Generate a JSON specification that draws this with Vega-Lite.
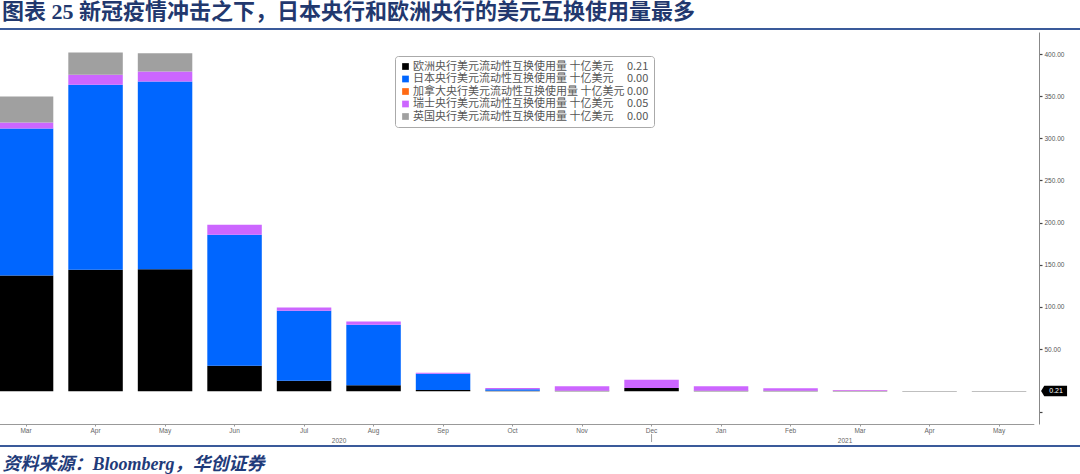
{
  "$schema": "https://vega.github.io/schema/vega-lite/v6.json",
  "width": 1039,
  "height": 392,
  "autosize": {"type": "none"},
  "padding": {"left": 0, "top": 32, "right": 41, "bottom": 50},
  "background": "white",
  "config": {"view": {"stroke": null}, "font": "Noto Sans CJK SC"},
  "title": {
    "text": "图表 25 新冠疫情冲击之下，日本央行和欧洲央行的美元互换使用量最多",
    "anchor": "start",
    "frame": "group",
    "orient": "top",
    "offset": 6,
    "dx": 2,
    "dy": 24.5,
    "baseline": "bottom",
    "font": "'Liberation Serif', 'Noto Sans CJK SC'",
    "fontSize": 22,
    "fontWeight": "bold",
    "color": "#22386E"
  },
  "layer": [
    {
      "data": {
        "values": [
          {"m": "2020-03", "s": "欧洲央行美元流动性互换使用量", "v": 137.3},
          {"m": "2020-03", "s": "日本央行美元流动性互换使用量", "v": 174.3},
          {"m": "2020-03", "s": "瑞士央行美元流动性互换使用量", "v": 7.1},
          {"m": "2020-03", "s": "英国央行美元流动性互换使用量", "v": 30.9},
          {"m": "2020-04", "s": "欧洲央行美元流动性互换使用量", "v": 144.0},
          {"m": "2020-04", "s": "日本央行美元流动性互换使用量", "v": 219.5},
          {"m": "2020-04", "s": "瑞士央行美元流动性互换使用量", "v": 11.8},
          {"m": "2020-04", "s": "英国央行美元流动性互换使用量", "v": 26.5},
          {"m": "2020-05", "s": "欧洲央行美元流动性互换使用量", "v": 144.8},
          {"m": "2020-05", "s": "日本央行美元流动性互换使用量", "v": 222.6},
          {"m": "2020-05", "s": "瑞士央行美元流动性互换使用量", "v": 11.8},
          {"m": "2020-05", "s": "英国央行美元流动性互换使用量", "v": 21.8},
          {"m": "2020-06", "s": "欧洲央行美元流动性互换使用量", "v": 30.1},
          {"m": "2020-06", "s": "日本央行美元流动性互换使用量", "v": 155.4},
          {"m": "2020-06", "s": "瑞士央行美元流动性互换使用量", "v": 11.9},
          {"m": "2020-07", "s": "欧洲央行美元流动性互换使用量", "v": 12.3},
          {"m": "2020-07", "s": "日本央行美元流动性互换使用量", "v": 83.1},
          {"m": "2020-07", "s": "瑞士央行美元流动性互换使用量", "v": 3.9},
          {"m": "2020-08", "s": "欧洲央行美元流动性互换使用量", "v": 7.2},
          {"m": "2020-08", "s": "日本央行美元流动性互换使用量", "v": 71.6},
          {"m": "2020-08", "s": "瑞士央行美元流动性互换使用量", "v": 3.9},
          {"m": "2020-09", "s": "欧洲央行美元流动性互换使用量", "v": 1.5},
          {"m": "2020-09", "s": "日本央行美元流动性互换使用量", "v": 19.1},
          {"m": "2020-09", "s": "瑞士央行美元流动性互换使用量", "v": 1.4},
          {"m": "2020-10", "s": "欧洲央行美元流动性互换使用量", "v": 0.5},
          {"m": "2020-10", "s": "日本央行美元流动性互换使用量", "v": 1.7},
          {"m": "2020-10", "s": "瑞士央行美元流动性互换使用量", "v": 1.7},
          {"m": "2020-11", "s": "欧洲央行美元流动性互换使用量", "v": 0.5},
          {"m": "2020-11", "s": "瑞士央行美元流动性互换使用量", "v": 5.4},
          {"m": "2020-12", "s": "欧洲央行美元流动性互换使用量", "v": 3.9},
          {"m": "2020-12", "s": "瑞士央行美元流动性互换使用量", "v": 9.8},
          {"m": "2021-01", "s": "欧洲央行美元流动性互换使用量", "v": 0.5},
          {"m": "2021-01", "s": "瑞士央行美元流动性互换使用量", "v": 5.4},
          {"m": "2021-02", "s": "欧洲央行美元流动性互换使用量", "v": 0.4},
          {"m": "2021-02", "s": "瑞士央行美元流动性互换使用量", "v": 3.0},
          {"m": "2021-03", "s": "欧洲央行美元流动性互换使用量", "v": 0.3},
          {"m": "2021-03", "s": "加拿大央行美元流动性互换使用量", "v": 0.3},
          {"m": "2021-03", "s": "瑞士央行美元流动性互换使用量", "v": 0.8},
          {"m": "2021-04", "s": "欧洲央行美元流动性互换使用量", "v": 0.2},
          {"m": "2021-04", "s": "瑞士央行美元流动性互换使用量", "v": 0.05},
          {"m": "2021-05", "s": "欧洲央行美元流动性互换使用量", "v": 0.21},
          {"m": "2021-05", "s": "瑞士央行美元流动性互换使用量", "v": 0.05}
        ]
      },
      "transform": [
        {"calculate": "indexof(['欧洲央行美元流动性互换使用量','日本央行美元流动性互换使用量','加拿大央行美元流动性互换使用量','瑞士央行美元流动性互换使用量','英国央行美元流动性互换使用量'], datum.s)", "as": "o"}
      ],
      "mark": {"type": "bar"},
      "encoding": {
        "x": {
          "field": "m",
          "type": "nominal",
          "scale": {
            "domain": ["2020-03","2020-04","2020-05","2020-06","2020-07","2020-08","2020-09","2020-10","2020-11","2020-12","2021-01","2021-02","2021-03","2021-04","2021-05"],
            "range": [-8.7, 1033.8],
            "paddingInner": 0.216,
            "paddingOuter": 0.108
          },
          "axis": {
            "orient": "bottom",
            "labelExpr": "['Jan','Feb','Mar','Apr','May','Jun','Jul','Aug','Sep','Oct','Nov','Dec'][toNumber(substring(datum.value, 5, 7)) - 1]",
            "labelAngle": 0,
            "labelFont": "Liberation Sans",
            "labelFontSize": 6.5,
            "labelColor": "#666666",
            "labelPadding": 1,
            "domainColor": "#999999",
            "tickSize": 2,
            "tickColor": "#999999",
            "title": "资料来源：Bloomberg，华创证券",
            "titleX": 2,
            "titleY": 40,
            "titleAlign": "left",
            "titleBaseline": "middle",
            "titleFont": "'Liberation Serif', 'Noto Sans CJK SC'",
            "titleFontStyle": "italic",
            "titleFontWeight": "bold",
            "titleFontSize": 18,
            "titleColor": "#1F3B7A"
          }
        },
        "y": {
          "field": "v",
          "type": "quantitative",
          "stack": "zero",
          "scale": {"domain": [-38.9, 426.1], "nice": false, "zero": false},
          "axis": {
            "orient": "right",
            "title": null,
            "grid": false,
            "values": [-25, 25, 50, 75, 100, 125, 150, 175, 200, 225, 250, 275, 300, 325, 350, 375, 400, 425],
            "format": ".2f",
            "labelOverlap": false,
            "labelExpr": "datum.value % 50 == 0 ? datum.label : ''",
            "labelFont": "Liberation Sans",
            "labelFontSize": 6.5,
            "labelColor": "#555555",
            "labelPadding": 2,
            "domainColor": "#888888",
            "tickSize": 3,
            "tickWidth": 1.2,
            "tickColor": "#444444"
          }
        },
        "color": {
          "field": "s",
          "type": "nominal",
          "scale": {
            "domain": ["欧洲央行美元流动性互换使用量","日本央行美元流动性互换使用量","加拿大央行美元流动性互换使用量","瑞士央行美元流动性互换使用量","英国央行美元流动性互换使用量"],
            "range": ["#000000", "#0066FF", "#FF6A13", "#CC66FF", "#A0A0A0"]
          },
          "legend": {
            "title": null,
            "orient": "none",
            "legendX": 395,
            "legendY": 24,
            "padding": 5,
            "strokeColor": "#AAAAAA",
            "fillColor": "#FFFFFF",
            "cornerRadius": 3,
            "symbolType": "square",
            "symbolSize": 45,
            "symbolStrokeWidth": 0,
            "symbolOffset": 0,
            "labelOffset": 2,
            "labelFont": "Noto Sans CJK SC",
            "labelFontSize": 11,
            "labelColor": "#555555",
            "labelLimit": 0,
            "rowPadding": 0.5,
            "labelExpr": "datum.value + ' 十亿美元' + (length(datum.value) > 14 ? ' ' : '　 ') + {'欧洲央行美元流动性互换使用量': '0.21', '日本央行美元流动性互换使用量': '0.00', '加拿大央行美元流动性互换使用量': '0.00', '瑞士央行美元流动性互换使用量': '0.05', '英国央行美元流动性互换使用量': '0.00'}[datum.value]"
          }
        },
        "order": {"field": "o", "type": "quantitative", "sort": "ascending"}
      }
    },
    {
      "data": {"values": [{}]},
      "mark": {"type": "rule", "color": "#3A5A9A", "strokeWidth": 2, "xOffset": -30, "x2Offset": 85},
      "encoding": {"x": {"datum": "2020-03"}, "x2": {"datum": "2021-05"}, "y": {"datum": 429.7}}
    },
    {
      "data": {"values": [{}]},
      "mark": {"type": "rule", "color": "#3A5A9A", "strokeWidth": 2, "xOffset": -30, "x2Offset": 85},
      "encoding": {"x": {"datum": "2020-03"}, "x2": {"datum": "2021-05"}, "y": {"datum": -65}}
    },
    {
      "data": {"values": [{}]},
      "mark": {"type": "rule", "color": "#888888", "strokeWidth": 0.8},
      "encoding": {"x": {"datum": "2020-12"}, "y": {"datum": -50.8}, "y2": {"datum": -60.3}}
    },
    {
      "data": {"values": [{}]},
      "mark": {"type": "text", "text": "2020", "dx": 35, "font": "Liberation Sans", "fontSize": 6.5, "color": "#666666", "baseline": "middle"},
      "encoding": {"x": {"datum": "2020-07"}, "y": {"datum": -59}}
    },
    {
      "data": {"values": [{}]},
      "mark": {"type": "text", "text": "2021", "dx": -15, "font": "Liberation Sans", "fontSize": 6.5, "color": "#666666", "baseline": "middle"},
      "encoding": {"x": {"datum": "2021-03"}, "y": {"datum": -59}}
    },
    {
      "data": {"values": [{}]},
      "mark": {"type": "point", "shape": "M-1,0L-0.75,-0.4L1,-0.4L1,0.4L-0.75,0.4Z", "filled": true, "color": "#000000", "opacity": 1, "size": 676, "xOffset": 55},
      "encoding": {"x": {"datum": "2021-05"}, "y": {"datum": 0.21}}
    },
    {
      "data": {"values": [{}]},
      "mark": {"type": "text", "text": "0.21", "dx": 57, "font": "Liberation Sans", "fontSize": 7, "color": "#FFFFFF", "align": "center", "baseline": "middle"},
      "encoding": {"x": {"datum": "2021-05"}, "y": {"datum": 0.21}}
    }
  ]
}
